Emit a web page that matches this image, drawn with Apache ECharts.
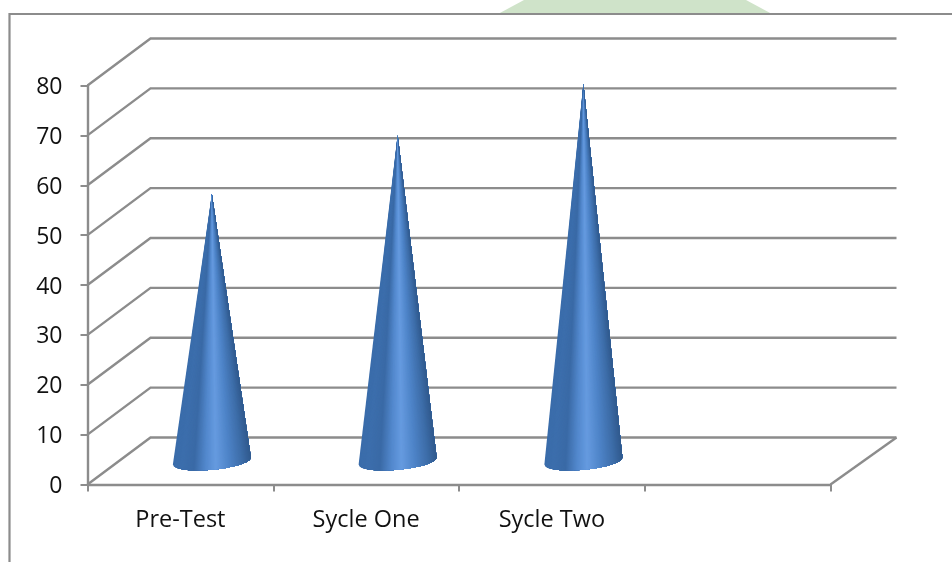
<!DOCTYPE html>
<html>
<head>
<meta charset="utf-8">
<style>html,body{margin:0;padding:0;background:#fff}#chart{width:952px;height:562px}</style>
<script src="https://cdn.jsdelivr.net/npm/echarts@6/dist/echarts.min.js"></script>
</head>
<body>
<div id="chart"></div>
<script>
// Scores per cycle; the fourth category slot is left empty.
var categories = ['Pre-Test', 'Sycle One', 'Sycle Two', ''];
var scores = [53.5, 65.3, 75.6];
var wallTicks = [0, 10, 20, 30, 40, 50, 60, 70, 80];

var LINE = '#8c8c8c';
var DEPTH_X = 63, DEPTH_X_RIGHT = 66, DEPTH_Y = 47;
var BASE_RATIO = 0.42;
var STRIPS = 80;

// Shading across the cone, left edge to right edge.
var shade = [
  [0.00, [58, 108, 170]],
  [0.12, [60, 110, 172]],
  [0.27, [58, 106, 166]],
  [0.42, [82, 136, 205]],
  [0.55, [102, 155, 224]],
  [0.72, [78, 132, 200]],
  [0.88, [62, 110, 170]],
  [1.00, [48, 90, 142]]
];
function shadeAt(t) {
  for (var i = 1; i < shade.length; i++) {
    if (t <= shade[i][0]) {
      var a = shade[i - 1], b = shade[i];
      var k = (t - a[0]) / (b[0] - a[0]);
      return 'rgb(' + [0, 1, 2].map(function (c) {
        return Math.round(a[1][c] + (b[1][c] - a[1][c]) * k);
      }).join(',') + ')';
    }
  }
  return 'rgb(48,90,142)';
}

// Back wall, floor edge and side-wall diagonals for one tick value.
function renderWall(params, api) {
  var v = api.value(1);
  var rect = params.coordSys;
  var y = api.coord([0, v])[1];
  var left = rect.x, right = rect.x + rect.width;
  var backLeft = left + DEPTH_X, backRight = right + DEPTH_X_RIGHT, backY = y - DEPTH_Y;
  var style = { stroke: LINE, lineWidth: 2.4, fill: null };
  var children = [{
    type: 'polyline',
    shape: { points: [[left, y], [backLeft, backY], [backRight, backY]] },
    style: style
  }];
  if (v === 0) {
    children.push({
      type: 'polyline',
      shape: { points: [[backRight, backY], [right, y]] },
      style: style
    });
  }
  return { type: 'group', children: children };
}

// The cone is painted as nested wedges from the apex: each one covers everything
// to its right, and the next one narrows it, so the shading tapers with the cone.
function renderCone(params, api) {
  var i = api.value(0);
  var base = api.coord([i, 0]);
  var top = api.coord([i, api.value(1)]);
  var cx = base[0] + DEPTH_X / 2;
  var cy = base[1] - DEPTH_Y / 2;
  var apex = [cx, top[1] - DEPTH_Y / 2];
  var a = api.size([1, 0])[0] * BASE_RATIO / 2;
  var b = 8.8, tilt = -3.5;
  function rim(t) {
    var s = 2 * t - 1;
    return [cx + a * s, cy + b * Math.sqrt(Math.max(0, 1 - s * s)) + tilt * s];
  }
  var children = [];
  for (var n = 0; n < STRIPS; n++) {
    var t0 = n / STRIPS;
    var pts = [apex];
    for (var k = n; k <= STRIPS; k++) pts.push(rim(k / STRIPS));
    children.push({
      type: 'polygon',
      shape: { points: pts },
      style: { fill: shadeAt(t0 + 0.5 / STRIPS) }
    });
  }
  return { type: 'group', children: children };
}

var chart = echarts.init(document.getElementById('chart'), null, { renderer: 'canvas' });
chart.setOption({
  animation: false,
  backgroundColor: '#ffffff',
  textStyle: { fontFamily: 'Open Sans' },
  grid: { left: 87.5, top: 85.5, width: 743, height: 399 },
  xAxis: {
    type: 'category',
    data: categories,
    boundaryGap: true,
    axisLine: { lineStyle: { color: LINE, width: 2.4 } },
    axisTick: { show: true, alignWithLabel: false, length: 7, lineStyle: { color: LINE, width: 2 } },
    axisLabel: { color: '#111', fontSize: 23.5, margin: 24, fontFamily: 'Open Sans' },
    splitLine: { show: false }
  },
  yAxis: {
    type: 'value',
    min: 0,
    max: 80,
    interval: 10,
    axisLine: { show: true, lineStyle: { color: LINE, width: 2.4 } },
    axisTick: { show: true, length: 7, lineStyle: { color: LINE, width: 2 } },
    axisLabel: { color: '#111', fontSize: 23, margin: 25, verticalAlign: 'top', lineHeight: 4, fontFamily: 'Open Sans' },
    splitLine: { show: false }
  },
  graphic: [
    // Pale green shape showing above the frame, and the frame itself.
    { type: 'polygon', z: 0, shape: { points: [[498, 14], [524, 0], [746, 0], [772, 14]] }, style: { fill: '#cfe3c9' } },
    { type: 'polyline', z: 1, shape: { points: [[9.5, 562], [9.5, 14], [952, 14]] }, style: { stroke: '#8c8c8c', lineWidth: 2.2, fill: null } }
  ],
  series: [
    {
      type: 'custom',
      name: 'walls',
      z: 1,
      silent: true,
      clip: false,
      renderItem: renderWall,
      encode: { x: 0, y: 1 },
      data: wallTicks.map(function (v) { return [0, v]; })
    },
    {
      type: 'custom',
      name: 'scores',
      z: 3,
      silent: true,
      clip: false,
      renderItem: renderCone,
      encode: { x: 0, y: 1 },
      data: scores.map(function (v, i) { return [i, v]; })
    }
  ]
});
</script>
</body>
</html>
